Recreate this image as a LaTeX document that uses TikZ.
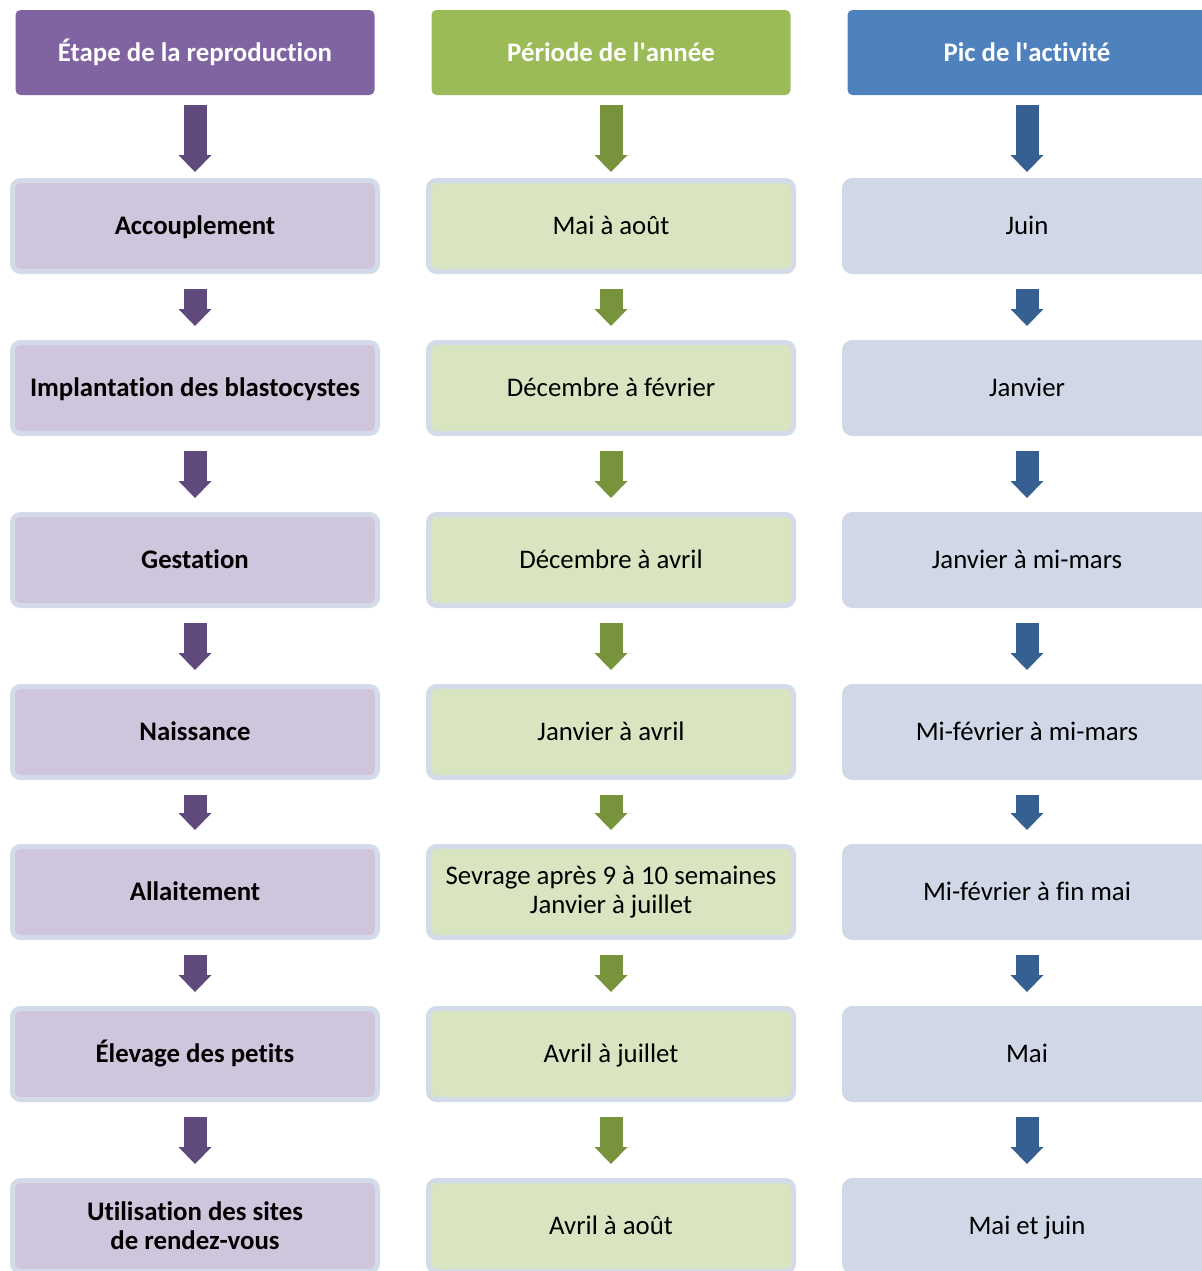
\documentclass[tikz,border=0pt]{standalone}
\usepackage{fontspec}
\setmainfont{Carlito}[Ligatures={NoCommon}]
\usetikzlibrary{arrows.meta}
\definecolor{stagehd}{HTML}{8064A2}
\definecolor{periodhd}{HTML}{9BBB59}
\definecolor{peakhd}{HTML}{4F81BD}
\definecolor{stagebg}{HTML}{CFC5DC}
\definecolor{periodbg}{HTML}{D9E4C0}
\definecolor{peakbg}{HTML}{D0D8E7}
\definecolor{stagedk}{HTML}{604A7B}
\definecolor{perioddk}{HTML}{77933C}
\definecolor{peakdk}{HTML}{376092}
\definecolor{rim}{HTML}{D3DBE8}
\tikzset{fig/.style={x=0.5pt,y=-0.5pt,line join=round,font=\fontsize{13.4}{14.5}\selectfont},
  head/.style={fill=#1,text=white,font=\fontsize{13.4}{14.5}\selectfont\bfseries,minimum width=179.5pt,minimum height=42.5pt,rounded corners=2.5pt,inner sep=0pt,outer sep=0pt,text height=11pt,text depth=2.5pt},
  box/.style={fill=#1,draw=rim,line width=2.5pt,minimum width=182.5pt,minimum height=45.5pt,rounded corners=4pt,align=center,inner sep=0pt,outer sep=1.25pt},
  cell/.style={box=#1,text height=11pt,text depth=2.5pt},
  bold/.style={font=\fontsize{13.4}{14.5}\selectfont\bfseries},
  flow/.style={draw=#1,line width=11.5pt,-{Triangle[width=16.5pt,length=8.5pt,line width=0pt]},shorten <=7.5pt,shorten >=7pt},
  topflow/.style={flow=#1,shorten <=5pt,shorten >=3pt}}

\begin{document}
\begin{tikzpicture}[fig]
  \useasboundingbox (0,0) rectangle (1202,1271);
  \clip (0,0) rectangle (1202,1271);
  \node[head=stagehd](hstage)at(195,52.5){Étape de la reproduction};
  \node[head=periodhd](hperiod)at(611,52.5){Période de l\textquotesingle année};
  \node[head=peakhd](hpeak)at(1027,52.5){Pic de l\textquotesingle activité};

  \node[cell=stagebg,bold](s1)at(195,226){Accouplement};
  \node[cell=stagebg,bold](s2)at(195,388){Implantation des blastocystes};
  \node[cell=stagebg,bold](s3)at(195,560){Gestation};
  \node[cell=stagebg,bold](s4)at(195,732){Naissance};
  \node[cell=stagebg,bold](s5)at(195,892){Allaitement};
  \node[cell=stagebg,bold](s6)at(195,1054){Élevage des petits};
  \node[box=stagebg,bold](s7)at(195,1226){Utilisation des sites\\de rendez-vous};

  \node[cell=periodbg](p1)at(611,226){Mai à août};
  \node[cell=periodbg](p2)at(611,388){Décembre à février};
  \node[cell=periodbg](p3)at(611,560){Décembre à avril};
  \node[cell=periodbg](p4)at(611,732){Janvier à avril};
  \node[box=periodbg](p5)at(611,892){Sevrage après 9 à 10 semaines\\Janvier à juillet};
  \node[cell=periodbg](p6)at(611,1054){Avril à juillet};
  \node[cell=periodbg](p7)at(611,1226){Avril à août};

  \node[cell=peakbg,draw=peakbg](k1)at(1027,226){Juin};
  \node[cell=peakbg,draw=peakbg](k2)at(1027,388){Janvier};
  \node[cell=peakbg,draw=peakbg](k3)at(1027,560){Janvier à mi-mars};
  \node[cell=peakbg,draw=peakbg](k4)at(1027,732){Mi-février à mi-mars};
  \node[cell=peakbg,draw=peakbg](k5)at(1027,892){Mi-février à fin mai};
  \node[cell=peakbg,draw=peakbg](k6)at(1027,1054){Mai};
  \node[cell=peakbg,draw=peakbg](k7)at(1027,1226){Mai et juin};

  \draw[topflow=stagedk](hstage.south)--(s1.north);
  \draw[topflow=perioddk](hperiod.south)--(p1.north);
  \draw[topflow=peakdk](hpeak.south)--(k1.north);
  \foreach \a/\b in {1/2,2/3,3/4,4/5,5/6,6/7}{
    \draw[flow=stagedk](s\a.south)--(s\b.north);
    \draw[flow=perioddk](p\a.south)--(p\b.north);
    \draw[flow=peakdk](k\a.south)--(k\b.north);
  }
\end{tikzpicture}
\end{document}
